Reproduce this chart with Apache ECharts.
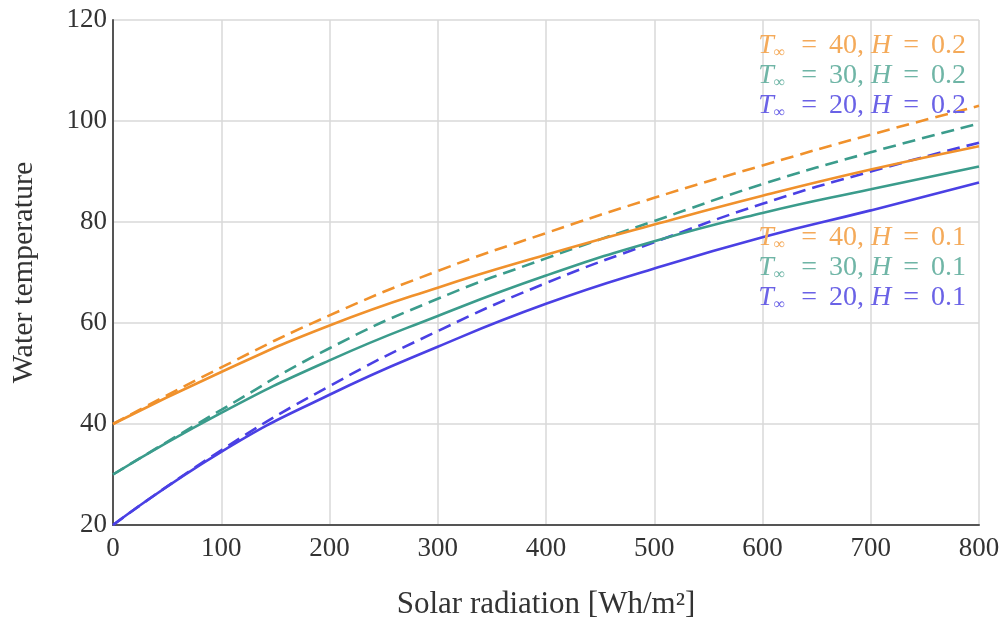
<!DOCTYPE html>
<html>
<head>
<meta charset="utf-8">
<script src="https://cdn.jsdelivr.net/npm/echarts@6/dist/echarts.min.js"></script>
<style>
  html, body { margin: 0; padding: 0; background: #fff; }
  #chart { width: 1001px; height: 619px; }
</style>
</head>
<body>
<div id="chart"></div>
<script>
// solar radiation [Wh/m2]
const radiation = [0, 100, 200, 300, 400, 500, 600, 700, 800]

// water temperature
const t40h01 = [40, 50.3, 59.5, 67.0, 73.5, 79.5, 85.2, 90.4, 95.0]
const t40h02 = [40, 51.2, 61.5, 70.3, 77.8, 84.8, 91.2, 97.3, 103.0]
const t30h01 = [30, 42.2, 52.6, 61.4, 69.4, 76.2, 81.8, 86.5, 91.0]
const t30h02 = [30, 42.8, 55.0, 64.8, 72.8, 80.2, 87.5, 93.8, 99.5]
const t20h01 = [20, 34.5, 45.8, 55.3, 63.8, 70.8, 77.0, 82.3, 87.8]
const t20h02 = [20, 34.8, 47.5, 58.4, 67.9, 76.0, 83.6, 90.0, 95.7]

const orange = '#f0912c'
const teal = '#3b9c8c'
const blue = '#4a40e4'

const serif = '"Liberation Serif", "DejaVu Serif", serif'

const chart = echarts.init(document.getElementById('chart'))

const pairs = ys => radiation.map((x, i) => [x, ys[i]])

const line = (name, ys, color, dashed) => ({
  name: name,
  type: 'line',
  data: pairs(ys),
  smooth: true,
  symbol: 'none',
  animation: false,
  lineStyle: {
    color: color,
    width: 2.6,
    type: dashed ? [13, 7] : 'solid'
  },
  itemStyle: { color: color }
})

// legend text: "T∞ = 40, H = 0.2" with italic T / H and subscript ∞
const legendFormatter = name => {
  const m = name.split('|')
  return '{i|T}{s|∞}{e|=}' + m[0] + ', {i|H}{e|=}' + m[1]
}
const legendRich = {
  i: { fontStyle: 'italic', fontFamily: serif, fontSize: 28 },
  s: { fontFamily: serif, fontSize: 16, verticalAlign: 'bottom', padding: [14, 4, 0, 0] },
  e: { fontFamily: serif, fontSize: 28, padding: [0, 12, 0, 12] }
}

const legendBase = {
  orient: 'vertical',
  right: 30,
  icon: 'none',
  itemWidth: 0,
  itemGap: 1,
  selectedMode: false,
  formatter: legendFormatter,
  textStyle: { fontFamily: serif, fontSize: 28, rich: legendRich }
}

const option = {
  backgroundColor: '#fff',
  animation: false,
  grid: { left: 113, right: 22, top: 20, bottom: 94, outerBoundsMode: 'none' },
  legend: [
    Object.assign({}, legendBase, {
      top: 27,
      data: [
        { name: '40|0.2', textStyle: { color: '#f4aa5a' } },
        { name: '30|0.2', textStyle: { color: '#6fb5a6' } },
        { name: '20|0.2', textStyle: { color: '#6a62e6' } }
      ]
    }),
    Object.assign({}, legendBase, {
      top: 219,
      data: [
        { name: '40|0.1', textStyle: { color: '#f4aa5a' } },
        { name: '30|0.1', textStyle: { color: '#6fb5a6' } },
        { name: '20|0.1', textStyle: { color: '#6a62e6' } }
      ]
    })
  ],
  xAxis: {
    type: 'value',
    min: 0,
    max: 800,
    interval: 100,
    name: 'Solar radiation [Wh/m²]',
    nameLocation: 'middle',
    nameGap: 64,
    nameTextStyle: { fontFamily: serif, fontSize: 31, color: '#333' },
    axisLine: { show: true, lineStyle: { color: '#555', width: 2 } },
    axisTick: { show: false },
    axisLabel: { fontFamily: serif, fontSize: 27, color: '#333', margin: 10 },
    splitLine: { show: true, lineStyle: { color: '#d9d9d9', width: 1.5 } }
  },
  yAxis: {
    type: 'value',
    min: 20,
    max: 120,
    interval: 20,
    name: 'Water temperature',
    nameLocation: 'middle',
    nameGap: 74,
    nameTextStyle: { fontFamily: serif, fontSize: 30, color: '#333' },
    axisLine: { show: true, lineStyle: { color: '#555', width: 2 } },
    axisTick: { show: false },
    axisLabel: { fontFamily: serif, fontSize: 27, color: '#333', margin: 6 },
    splitLine: { show: true, lineStyle: { color: '#d9d9d9', width: 1.5 } }
  },
  series: [
    line('40|0.2', t40h02, orange, true),
    line('30|0.2', t30h02, teal, true),
    line('20|0.2', t20h02, blue, true),
    line('40|0.1', t40h01, orange, false),
    line('30|0.1', t30h01, teal, false),
    line('20|0.1', t20h01, blue, false)
  ]
}

chart.setOption(option)
</script>
</body>
</html>
